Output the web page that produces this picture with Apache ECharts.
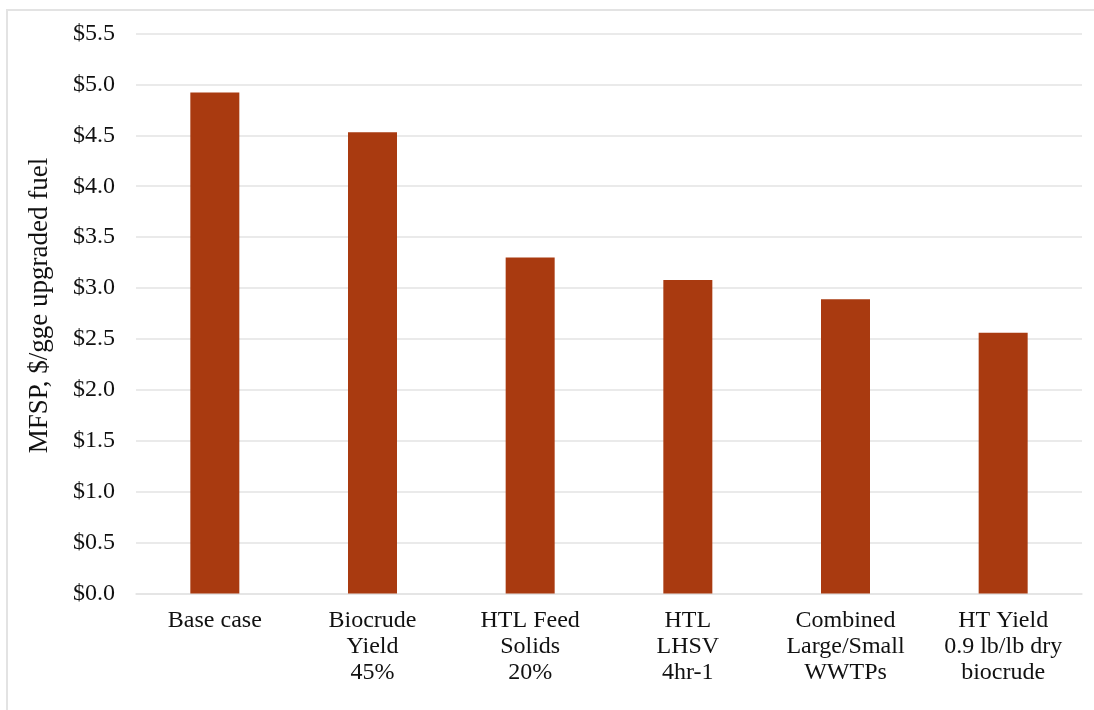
<!DOCTYPE html>
<html>
<head>
<meta charset="utf-8">
<script src="https://cdn.jsdelivr.net/npm/echarts@6/dist/echarts.min.js"></script>
<style>
  html, body { margin: 0; padding: 0; background: #fff; }
  #chart { width: 1094px; height: 710px; }
</style>
</head>
<body>
<div id="chart"></div>
<script>
// Scenario labels along the x axis
const categories = [
  'Base case',
  'Biocrude\nYield\n45%',
  'HTL Feed\nSolids\n20%',
  'HTL\nLHSV\n4hr-1',
  'Combined\nLarge/Small\nWWTPs',
  'HT Yield\n0.9 lb/lb dry\nbiocrude'
];
// Minimum fuel selling price per scenario ($/gge)
const mfsp = [4.92, 4.53, 3.30, 3.08, 2.89, 2.56];
const yAxisTitle = 'MFSP, $/gge upgraded fuel';

const font = '"Liberation Serif", "Times New Roman", serif';
const chart = echarts.init(document.getElementById('chart'));
chart.setOption({
  animation: false,
  backgroundColor: '#fff',
  graphic: [{
    type: 'rect',
    shape: { x: 7, y: 10, width: 1200, height: 800 },
    style: { fill: 'none', stroke: '#e3e3e3', lineWidth: 2 },
    silent: true
  }],
  grid: { left: 136, right: 12, top: 33.5, bottom: 116.5 },
  xAxis: {
    type: 'category',
    data: categories,
    axisLine: { show: true, lineStyle: { color: '#e3e3e3', width: 1.5 } },
    axisTick: { show: false },
    axisLabel: {
      color: '#111', fontFamily: font, fontSize: 24, lineHeight: 26,
      margin: 14, interval: 0, align: 'center'
    }
  },
  yAxis: {
    type: 'value',
    min: 0, max: 5.5, interval: 0.5,
    name: yAxisTitle,
    nameLocation: 'middle',
    nameGap: 83,
    nameRotate: 90,
    nameTextStyle: { color: '#111', fontFamily: font, fontSize: 27, padding: [0, 0, 0, 16] },
    axisLine: { show: false },
    axisTick: { show: false },
    splitLine: { lineStyle: { color: '#e3e3e3', width: 1.5 } },
    axisLabel: {
      color: '#111', fontFamily: font, fontSize: 24, margin: 21,
      formatter: v => '$' + v.toFixed(1)
    }
  },
  series: [{
    type: 'bar',
    data: mfsp,
    barWidth: 49,
    itemStyle: { color: '#A93A10' }
  }]
});
</script>
</body>
</html>
